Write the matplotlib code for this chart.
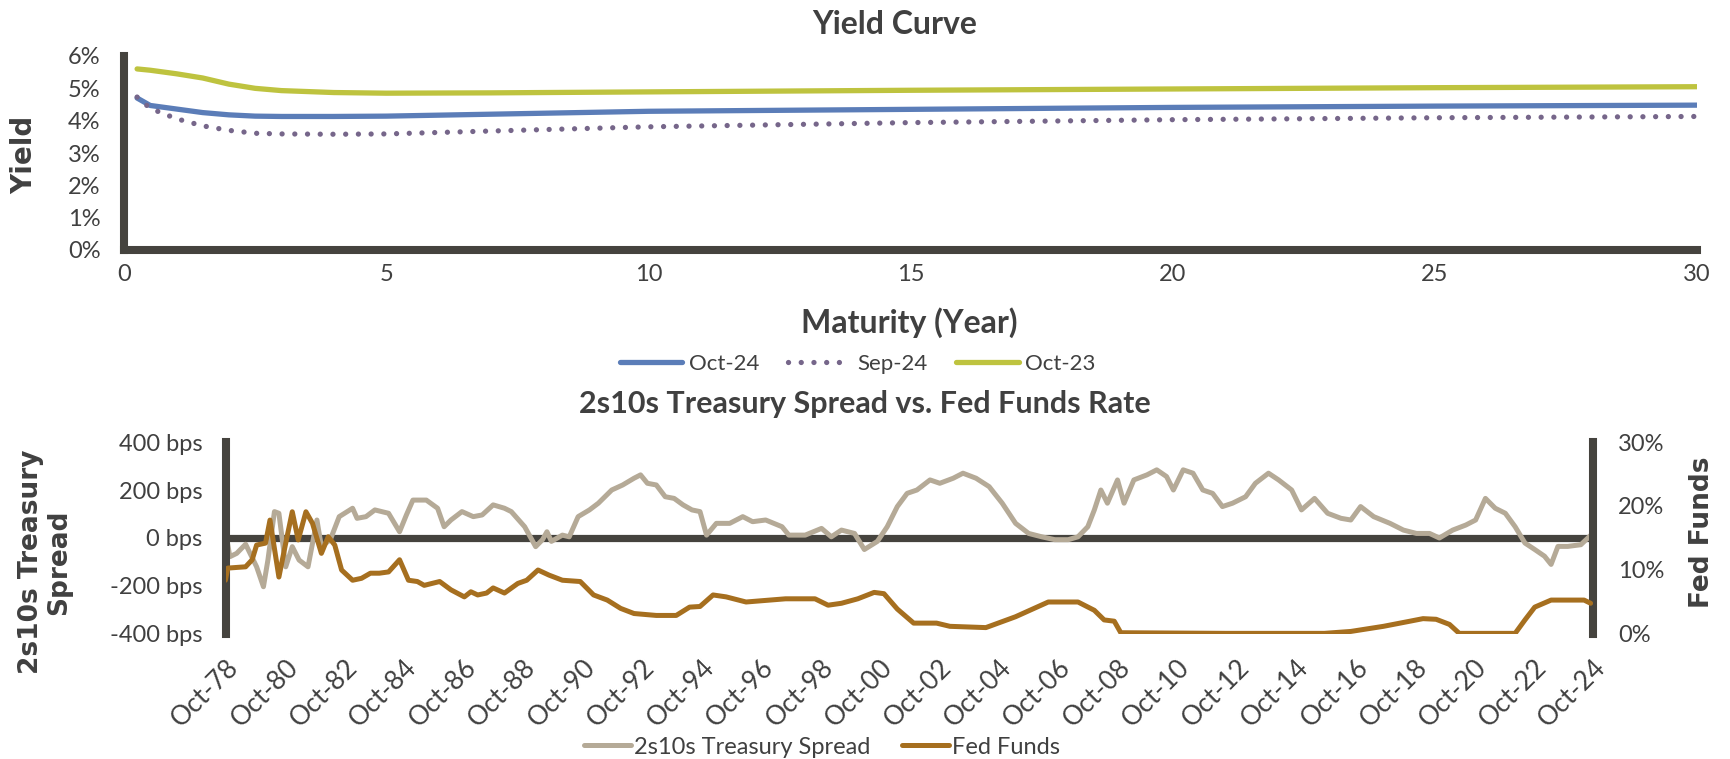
import numpy as np
import matplotlib
matplotlib.use("Agg")
import matplotlib.pyplot as plt
from matplotlib.ticker import FuncFormatter

#   Yield curve data (maturity in years, yield in %)
maturity = [0.25, 0.5, 1, 1.5, 2, 2.5, 3, 4, 5, 7, 10, 15, 20, 25, 30]
oct24 = [4.70, 4.47, 4.36, 4.25, 4.18, 4.14, 4.13, 4.13, 4.14, 4.20, 4.29, 4.35, 4.41, 4.45, 4.48]
sep24 = [4.73, 4.38, 4.06, 3.84, 3.70, 3.61, 3.59, 3.58, 3.59, 3.68, 3.81, 3.94, 4.03, 4.09, 4.13]
oct23 = [5.60, 5.56, 5.45, 5.32, 5.13, 5.00, 4.93, 4.87, 4.85, 4.86, 4.89, 4.94, 4.98, 5.02, 5.05]

#   2s10s spread (decimal year, bps)
spread_year = [1978.78, 1978.88, 1979.11, 1979.41, 1979.78, 1980.01, 1980.16, 1980.38, 1980.53,
               1980.76, 1980.98, 1981.21, 1981.51, 1981.81, 1981.96, 1982.26, 1982.56, 1983.01,
               1983.16, 1983.46, 1983.76, 1984.22, 1984.59, 1984.82, 1985.04, 1985.49, 1985.87,
               1986.09, 1986.32, 1986.69, 1987.07, 1987.37, 1987.74, 1988.12, 1988.35, 1988.80,
               1989.17, 1989.40, 1989.55, 1989.70, 1990.07, 1990.30, 1990.60, 1990.98, 1991.28,
               1991.73, 1992.10, 1992.48, 1992.70, 1992.93, 1993.23, 1993.53, 1993.83, 1994.13,
               1994.43, 1994.70, 1994.92, 1995.25, 1995.70, 1996.14, 1996.47, 1996.91, 1997.46,
               1997.69, 1998.24, 1998.79, 1999.12, 1999.46, 1999.90, 2000.23, 2000.67, 2001.00,
               2001.34, 2001.67, 2002.00, 2002.44, 2002.77, 2003.22, 2003.55, 2003.99, 2004.43,
               2004.87, 2005.32, 2005.76, 2006.20, 2006.64, 2007.09, 2007.42, 2007.75, 2007.97,
               2008.19, 2008.41, 2008.75, 2008.97, 2009.30, 2009.74, 2010.07, 2010.40, 2010.63,
               2010.96, 2011.29, 2011.62, 2011.95, 2012.28, 2012.62, 2013.06, 2013.39, 2013.83,
               2014.17, 2014.61, 2014.94, 2015.38, 2015.82, 2016.27, 2016.60, 2016.93, 2017.37,
               2017.92, 2018.37, 2018.81, 2019.25, 2019.58, 2020.03, 2020.47, 2020.80, 2021.13,
               2021.46, 2021.80, 2022.13, 2022.46, 2022.79, 2023.12, 2023.34, 2023.57, 2023.90,
               2024.34, 2024.74]
spread_bps = [-7, -78, -64, -26, -120, -203, -92, 110, 103,
              -120, -36, -92, -120, 75, -36, -7, 89, 124,
              82, 89, 117, 103, 26, 96, 158, 158, 124,
              47, 75, 110, 89, 96, 138, 124, 110, 47,
              -36, -7, 26, -14, 12, 5, 89, 117, 145,
              200, 221, 249, 263, 228, 221, 172, 165, 138,
              117, 110, 12, 61, 61, 89, 68, 75, 47,
              12, 12, 40, 5, 33, 19, -48, -14, 47,
              131, 186, 200, 242, 228, 249, 270, 249, 214,
              145, 61, 19, 5, -7, -7, 5, 47, 117,
              200, 145, 242, 145, 242, 263, 284, 256, 200,
              284, 270, 200, 186, 131, 145, 172, 228, 270,
              242, 200, 117, 165, 103, 82, 75, 131, 89,
              61, 33, 19, 19, 0, 33, 54, 75, 165,
              124, 103, 47, -21, -48, -76, -110, -35, -35,
              -28, 19]

#   Fed funds rate (decimal year, %)
ff_year = [1978.73, 1978.81, 1979.41, 1979.63, 1979.78, 1980.08, 1980.23, 1980.53, 1980.76,
           1980.98, 1981.18, 1981.44, 1981.66, 1981.96, 1982.19, 1982.41, 1982.64, 1983.01,
           1983.31, 1983.61, 1983.91, 1984.22, 1984.59, 1984.89, 1985.19, 1985.42, 1985.94,
           1986.32, 1986.77, 1986.99, 1987.22, 1987.52, 1987.74, 1988.12, 1988.57, 1988.87,
           1989.25, 1989.62, 1990.07, 1990.67, 1991.12, 1991.58, 1992.03, 1992.48, 1993.23,
           1993.90, 1994.35, 1994.70, 1995.14, 1995.58, 1996.25, 1997.58, 1998.57, 1999.01,
           1999.46, 2000.01, 2000.56, 2000.89, 2001.34, 2001.89, 2002.66, 2003.11, 2004.32,
           2005.32, 2006.42, 2007.42, 2007.97, 2008.30, 2008.64, 2008.86, 2012.40, 2015.71,
           2016.60, 2017.70, 2018.59, 2019.03, 2019.47, 2019.92, 2020.25, 2022.13, 2022.46,
           2022.79, 2023.34, 2024.45, 2024.67]
ff_rate = [8.4, 10.3, 10.5, 11.6, 13.9, 14.2, 17.8, 8.9, 14.2,
           19.1, 14.7, 19.1, 17.3, 12.6, 15.2, 13.9, 10.0, 8.4,
           8.7, 9.5, 9.5, 9.7, 11.6, 8.4, 8.2, 7.6, 8.2,
           6.9, 5.8, 6.6, 6.1, 6.4, 7.2, 6.4, 7.9, 8.4,
           10.0, 9.2, 8.4, 8.2, 6.1, 5.3, 4.0, 3.2, 2.9,
           2.9, 4.2, 4.3, 6.1, 5.8, 5.0, 5.5, 5.5, 4.5,
           4.8, 5.5, 6.5, 6.3, 3.9, 1.7, 1.7, 1.2, 1.0,
           2.7, 5.0, 5.0, 3.7, 2.2, 2.0, 0.2, 0.1, 0.1,
           0.4, 1.2, 2.0, 2.4, 2.3, 1.5, 0.1, 0.1, 2.2,
           4.2, 5.3, 5.3, 4.8]

date_ticks = [1978.75 + 2 * i for i in range(24)]
date_labels = ["Oct-78", "Oct-80", "Oct-82", "Oct-84", "Oct-86", "Oct-88", "Oct-90", "Oct-92",
               "Oct-94", "Oct-96", "Oct-98", "Oct-00", "Oct-02", "Oct-04", "Oct-06", "Oct-08",
               "Oct-10", "Oct-12", "Oct-14", "Oct-16", "Oct-18", "Oct-20", "Oct-22", "Oct-24"]

#   Colours
c_text = "#404040"
c_axis = "#45433e"
c_oct24 = "#5b7db8"
c_sep24 = "#76668a"
c_oct23 = "#bec33f"
c_spread = "#b5aa97"
c_ff = "#a66f1f"

plt.rcParams["font.family"] = ["Lato", "DejaVu Sans"]
plt.rcParams["text.color"] = c_text
plt.rcParams["xtick.color"] = c_text
plt.rcParams["ytick.color"] = c_text

W, H = 1731, 759
fig = plt.figure(figsize=(W / 100, H / 100), dpi=100)

def fx(px):
    return px / W

def fy(py):
    return 1 - py / H

### Top chart: yield curve
ax1 = fig.add_axes([fx(124), fy(250), fx(1697) - fx(124), fy(56) - fy(250)])
ax1.plot(maturity, oct24, color=c_oct24, lw=3.8, solid_capstyle="round", label="Oct-24", zorder=3)
ax1.plot(maturity, sep24, color=c_sep24, lw=3.8, linestyle=(0, (0.01, 2.4)),
         dash_capstyle="round", label="Sep-24", zorder=3)
ax1.plot(maturity, oct23, color=c_oct23, lw=3.8, solid_capstyle="round", label="Oct-23", zorder=3)
ax1.set_xlim(0, 30)
ax1.set_ylim(0, 6)
ax1.set_xticks([0, 5, 10, 15, 20, 25, 30])
ax1.set_yticks(range(7))
ax1.yaxis.set_major_formatter(FuncFormatter(lambda v, p: "%d%%" % v))
ax1.tick_params(length=0, labelsize=17)
ax1.tick_params(axis="y", pad=17)
ax1.tick_params(axis="x", pad=10)
for s in ["top", "right"]:
    ax1.spines[s].set_visible(False)
for s in ["left", "bottom"]:
    ax1.spines[s].set_color(c_axis)
    ax1.spines[s].set_linewidth(5.8)
ax1.patch.set_alpha(0)

fig.text(fx(895), fy(24), "Yield Curve", ha="center", va="center", fontsize=23, fontweight="bold")
fig.text(fx(909), fy(323), "Maturity (Year)", ha="center", va="center", fontsize=23, fontweight="bold")
fig.text(fx(24), fy(155), "Yield", ha="center", va="center", rotation=90, fontsize=20,
         fontweight="bold", family="DejaVu Sans")
fig.legend(*ax1.get_legend_handles_labels(), loc="center", bbox_to_anchor=(fx(858), fy(364)),
           ncol=3, frameon=False, fontsize=16, handlelength=2.8, handletextpad=0.3,
           columnspacing=1.3)

### Bottom chart: 2s10s spread vs fed funds
ax2 = fig.add_axes([fx(226), fy(634), fx(1593) - fx(226), fy(442) - fy(634)])
ax2.axhline(0, color=c_axis, lw=5.2, zorder=1)
ax2.plot(spread_year, spread_bps, color=c_spread, lw=3.6, solid_joinstyle="round",
         solid_capstyle="round", label="2s10s Treasury Spread", zorder=2)
ax2.set_ylim(-400, 400)
ax2.set_yticks([-400, -200, 0, 200, 400])
ax2.yaxis.set_major_formatter(FuncFormatter(lambda v, p: "%d bps" % v))
ax2.set_xlim(1978.75, 2024.75)
ax2.set_xticks(date_ticks)
ax2.set_xticklabels(date_labels, rotation=45, ha="right", rotation_mode="anchor")
ax2.tick_params(length=0, labelsize=17)
ax2.tick_params(axis="x", labelsize=19, pad=15)
ax2.tick_params(axis="y", pad=17)
for s in ["top", "right", "bottom"]:
    ax2.spines[s].set_visible(False)
ax2.spines["left"].set_color(c_axis)
ax2.spines["left"].set_linewidth(5.8)

ax3 = ax2.twinx()
ax3.plot(ff_year, ff_rate, color=c_ff, lw=3.6, solid_joinstyle="round",
         solid_capstyle="round", label="Fed Funds", zorder=3)
ax3.set_ylim(0, 30)
ax3.set_yticks([0, 10, 20, 30])
ax3.yaxis.set_major_formatter(FuncFormatter(lambda v, p: "%d%%" % v))
ax3.tick_params(length=0, labelsize=17, pad=18)
for s in ["top", "left", "bottom"]:
    ax3.spines[s].set_visible(False)
ax3.spines["right"].set_color(c_axis)
ax3.spines["right"].set_linewidth(5.8)

fig.text(fx(865), fy(404), "2s10s Treasury Spread vs. Fed Funds Rate", ha="center", va="center",
         fontsize=22, fontweight="bold")
fig.text(fx(45), fy(562), "2s10s Treasury\nSpread", ha="center", va="center", rotation=90,
         fontsize=19, fontweight="bold", family="DejaVu Sans", linespacing=1.1)
fig.text(fx(1702), fy(532), "Fed Funds", ha="center", va="center", rotation=90, fontsize=19,
         fontweight="bold", family="DejaVu Sans")

h1, l1 = ax2.get_legend_handles_labels()
h2, l2 = ax3.get_legend_handles_labels()
fig.legend(h1 + h2, l1 + l2, loc="center", bbox_to_anchor=(fx(822), fy(747)), ncol=2,
           frameon=False, fontsize=17, handlelength=2.0, handletextpad=0.15, columnspacing=1.3)

fig.savefig("out.png", dpi=100)
